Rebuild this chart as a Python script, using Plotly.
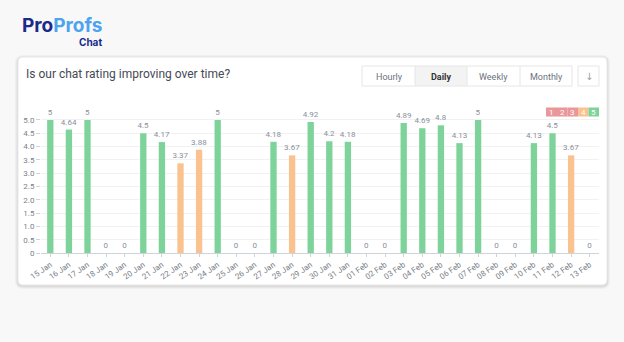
import plotly.graph_objects as go

# ---- data ----
dates = ["15 Jan", "16 Jan", "17 Jan", "18 Jan", "19 Jan", "20 Jan", "21 Jan", "22 Jan",
         "23 Jan", "24 Jan", "25 Jan", "26 Jan", "27 Jan", "28 Jan", "29 Jan", "30 Jan",
         "31 Jan", "01 Feb", "02 Feb", "03 Feb", "04 Feb", "05 Feb", "06 Feb", "07 Feb",
         "08 Feb", "09 Feb", "10 Feb", "11 Feb", "12 Feb", "13 Feb"]
ratings = [5, 4.64, 5, 0, 0, 4.5, 4.17, 3.37, 3.88, 5, 0, 0, 4.18, 3.67, 4.92, 4.2,
           4.18, 0, 0, 4.89, 4.69, 4.8, 4.13, 5, 0, 0, 4.13, 4.5, 3.67, 0]
ytick_vals = [0, 0.5, 1, 1.5, 2, 2.5, 3, 3.5, 4, 4.5, 5]
ytick_text = ["0", "0.5", "1.0", "1.5", "2.0", "2.5", "3.0", "3.5", "4.0", "4.5", "5.0"]
scale_labels = ["1", "2", "3", "4", "5"]
buttons = ["Hourly", "Daily", "Weekly", "Monthly"]

GREEN = "#7dd39a"
ORANGE = "#f9c28f"
RED = "#e9979b"
bar_colors = [GREEN if v >= 4 else ORANGE for v in ratings]

W, H = 624, 342
ML, MR, MT, MB = 41, 25, 112, 89
PW, PH = W - ML - MR, H - MT - MB


def px(x):
    return (x - ML) / PW


def py(y):
    return (H - MB - y) / PH


def rrect(x0, y0, x1, y1, r):
    def P(x, y):
        return f"{px(x):.5f},{py(y):.5f}"
    return (f"M {P(x0 + r, y0)} L {P(x1 - r, y0)} Q {P(x1, y0)} {P(x1, y0 + r)} "
            f"L {P(x1, y1 - r)} Q {P(x1, y1)} {P(x1 - r, y1)} "
            f"L {P(x0 + r, y1)} Q {P(x0, y1)} {P(x0, y1 - r)} "
            f"L {P(x0, y0 + r)} Q {P(x0, y0)} {P(x0 + r, y0)} Z")


fig = go.Figure()
fig.add_trace(go.Bar(
    x=dates, y=ratings,
    marker=dict(color=bar_colors, line=dict(width=0)),
    text=[f"{v:g}" for v in ratings], textposition="outside", constraintext="none",
    textfont=dict(size=8, color="#8a8f99", family="Roboto"),
    cliponaxis=False, hoverinfo="skip",
))

shapes = []
annotations = []
# card shadow + card
for i, a in enumerate([0.03, 0.04, 0.05]):
    d = 3 - i
    shapes.append(dict(type="path", xref="paper", yref="paper", layer="below",
                       path=rrect(18 - d, 57 - d + 1, 607 + d, 285 + d + 1, 5 + d),
                       fillcolor=f"rgba(0,0,0,{a})", line=dict(width=0)))
shapes.append(dict(type="path", xref="paper", yref="paper", layer="below",
                   path=rrect(18, 57, 607, 285, 5), fillcolor="#ffffff",
                   line=dict(color="#e8e8e8", width=1)))

# buttons
shapes.append(dict(type="rect", xref="paper", yref="paper", layer="below",
                   x0=px(415), x1=px(467), y0=py(66), y1=py(86),
                   fillcolor="#f3f3f3", line=dict(width=0)))
shapes.append(dict(type="rect", xref="paper", yref="paper", layer="below",
                   x0=px(362), x1=px(572), y0=py(66), y1=py(86),
                   fillcolor="rgba(0,0,0,0)", line=dict(color="#e6e6e6", width=1)))
for xd in [415, 467, 520]:
    shapes.append(dict(type="line", xref="paper", yref="paper", layer="below",
                       x0=px(xd), x1=px(xd), y0=py(66), y1=py(86),
                       line=dict(color="#e6e6e6", width=1)))
shapes.append(dict(type="rect", xref="paper", yref="paper", layer="below",
                   x0=px(578), x1=px(599), y0=py(66), y1=py(86),
                   fillcolor="rgba(0,0,0,0)", line=dict(color="#e6e6e6", width=1)))
centers = [389, 441, 494, 546]
for lab, cx in zip(buttons, centers):
    bold = lab == "Daily"
    annotations.append(dict(x=px(cx), y=py(76.5), xref="paper", yref="paper",
                            text=f"<b>{lab}</b>" if bold else lab, showarrow=False,
                            xanchor="center", yanchor="middle",
                            font=dict(size=9, color="#333" if bold else "#6b7280", family="Roboto")))
annotations.append(dict(x=px(588.5), y=py(76.5), xref="paper", yref="paper", text="↓",
                        showarrow=False, xanchor="center", yanchor="middle",
                        font=dict(size=10, color="#a0a0a0", family="DejaVu Sans")))

# rating scale legend
seg = [(546, 557), (557, 567.5), (567.5, 578), (578, 588.5), (588.5, 599)]
seg_cols = [RED, RED, RED, ORANGE, GREEN]
for lab, (a, b), c in zip(scale_labels, seg, seg_cols):
    shapes.append(dict(type="rect", xref="paper", yref="paper",
                       x0=px(a), x1=px(b), y0=py(107.5), y1=py(116.5),
                       fillcolor=c, line=dict(width=0)))
    annotations.append(dict(x=px((a + b) / 2), y=py(112), xref="paper", yref="paper",
                            text=lab, showarrow=False, xanchor="center", yanchor="middle",
                            font=dict(size=8, color="#ffffff", family="Roboto")))

# title
annotations.append(dict(x=px(24), y=py(74), xref="paper", yref="paper",
                        text="Is our chat rating improving over time?", showarrow=False,
                        xanchor="left", yanchor="middle",
                        font=dict(size=12, color="#444a55", family="Roboto")))
# logo
annotations.append(dict(x=px(20), y=py(25.5), xref="paper", yref="paper",
                        text="<b><span style='color:#1a2a8a'>Pro</span><span style='color:#4ea3ee'>Profs</span></b>",
                        showarrow=False, xanchor="left", yanchor="middle",
                        font=dict(size=19, family="Inter")))
annotations.append(dict(x=px(104), y=py(42.5), xref="paper", yref="paper",
                        text="<b>Chat</b>", showarrow=False, xanchor="right", yanchor="middle",
                        font=dict(size=10, color="#1a2a8a", family="Inter")))

fig.update_layout(
    width=W, height=H,
    margin=dict(l=ML, r=MR, t=MT, b=MB, pad=0),
    paper_bgcolor="#f8f8f8", plot_bgcolor="rgba(0,0,0,0)",
    showlegend=False, bargap=0.66,
    shapes=shapes, annotations=annotations,
    font=dict(family="Roboto", color="#777"),
    xaxis=dict(type="category", tickangle=-35, tickfont=dict(size=8, color="#7a7f88"),
               showline=True, linecolor="#cfd3da", linewidth=1, ticks="outside",
               ticklen=3, tickcolor="#cfd3da", showgrid=False, fixedrange=True),
    yaxis=dict(range=[0, 5.3], tickvals=ytick_vals, ticktext=ytick_text,
               tickfont=dict(size=8, color="#7a7f88"), showgrid=True, gridcolor="#f1f1f1",
               zeroline=False, showline=False, ticks="outside", ticklen=4,
               tickcolor="#cfd3da", fixedrange=True),
)

fig.write_html("out.html")
